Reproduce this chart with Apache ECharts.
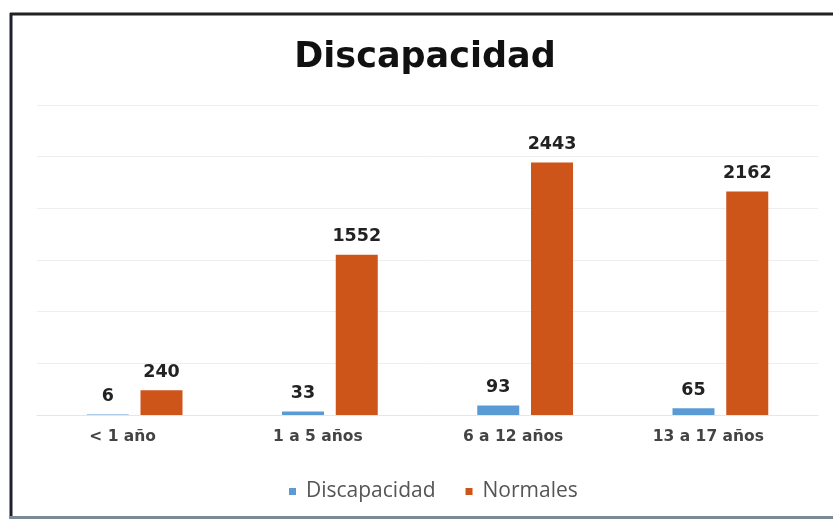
<!DOCTYPE html>
<html>
<head>
<meta charset="utf-8">
<script src="https://cdn.jsdelivr.net/npm/echarts@6/dist/echarts.min.js"></script>
<style>
html,body{margin:0;padding:0;background:#fff;}
#c{width:833px;height:519px;}
</style>
</head>
<body>
<div id="c"></div>
<script>
const categories = ['< 1 año', '1 a 5 años', '6 a 12 años', '13 a 17 años'];
const discapacidad = [6, 33, 93, 65];
const normales = [240, 1552, 2443, 2162];
const yTicks = [0, 500, 1000, 1500, 2000, 2500, 3000];

const chart = echarts.init(document.getElementById('c'));
const labelStyle = {
  show: true, position: 'top', distance: 9,
  fontFamily: 'DejaVu Sans', fontWeight: 'bold', fontSize: 17.5, color: '#222'
};
chart.setOption({
  animation: false,
  backgroundColor: '#fff',
  title: {
    text: 'Discapacidad', left: 420, textAlign: 'center', top: 35,
    textStyle: { fontFamily: 'DejaVu Sans', fontWeight: 'bold', fontSize: 35, color: '#111' }
  },
  legend: {
    bottom: 12, left: 284, itemWidth: 7, itemHeight: 7, itemGap: 30,
    icon: 'rect',
    textStyle: { fontFamily: 'Open Sans', fontSize: 21, color: '#555', padding: [0, 0, 0, 5] },
    data: ['Discapacidad', 'Normales']
  },
  grid: { left: 37, right: 15, top: 105, bottom: 104 },
  xAxis: {
    type: 'category', data: categories,
    axisTick: { show: false },
    axisLine: { show: true, lineStyle: { color: '#e6e6e6' } },
    axisLabel: { margin: 14, padding: [0, 24, 0, 0], fontFamily: 'DejaVu Sans', fontWeight: 'bold', fontSize: 15.5, color: '#444' }
  },
  yAxis: {
    type: 'value', min: yTicks[0], max: yTicks[yTicks.length - 1], interval: 500,
    axisLabel: { show: false },
    axisLine: { show: false }, axisTick: { show: false },
    splitLine: { lineStyle: { color: '#eeeeee' } }
  },
  series: [
    { name: 'Discapacidad', type: 'bar', data: discapacidad, barWidth: 42, barGap: '28%',
      itemStyle: { color: '#5b9bd5' }, label: labelStyle },
    { name: 'Normales', type: 'bar', data: normales, barWidth: 42,
      itemStyle: { color: '#cd5519' }, label: labelStyle }
  ],
  graphic: [
    { type: 'line', shape: { x1: 10, y1: 14, x2: 833, y2: 14 }, style: { stroke: '#222', lineWidth: 3 } },
    { type: 'line', shape: { x1: 11, y1: 13, x2: 11, y2: 519 }, style: { stroke: '#1e2030', lineWidth: 3 } },
    { type: 'line', shape: { x1: 10, y1: 517.5, x2: 833, y2: 517.5 }, style: { stroke: '#7a8a99', lineWidth: 3 } }
  ]
});
</script>
</body>
</html>
